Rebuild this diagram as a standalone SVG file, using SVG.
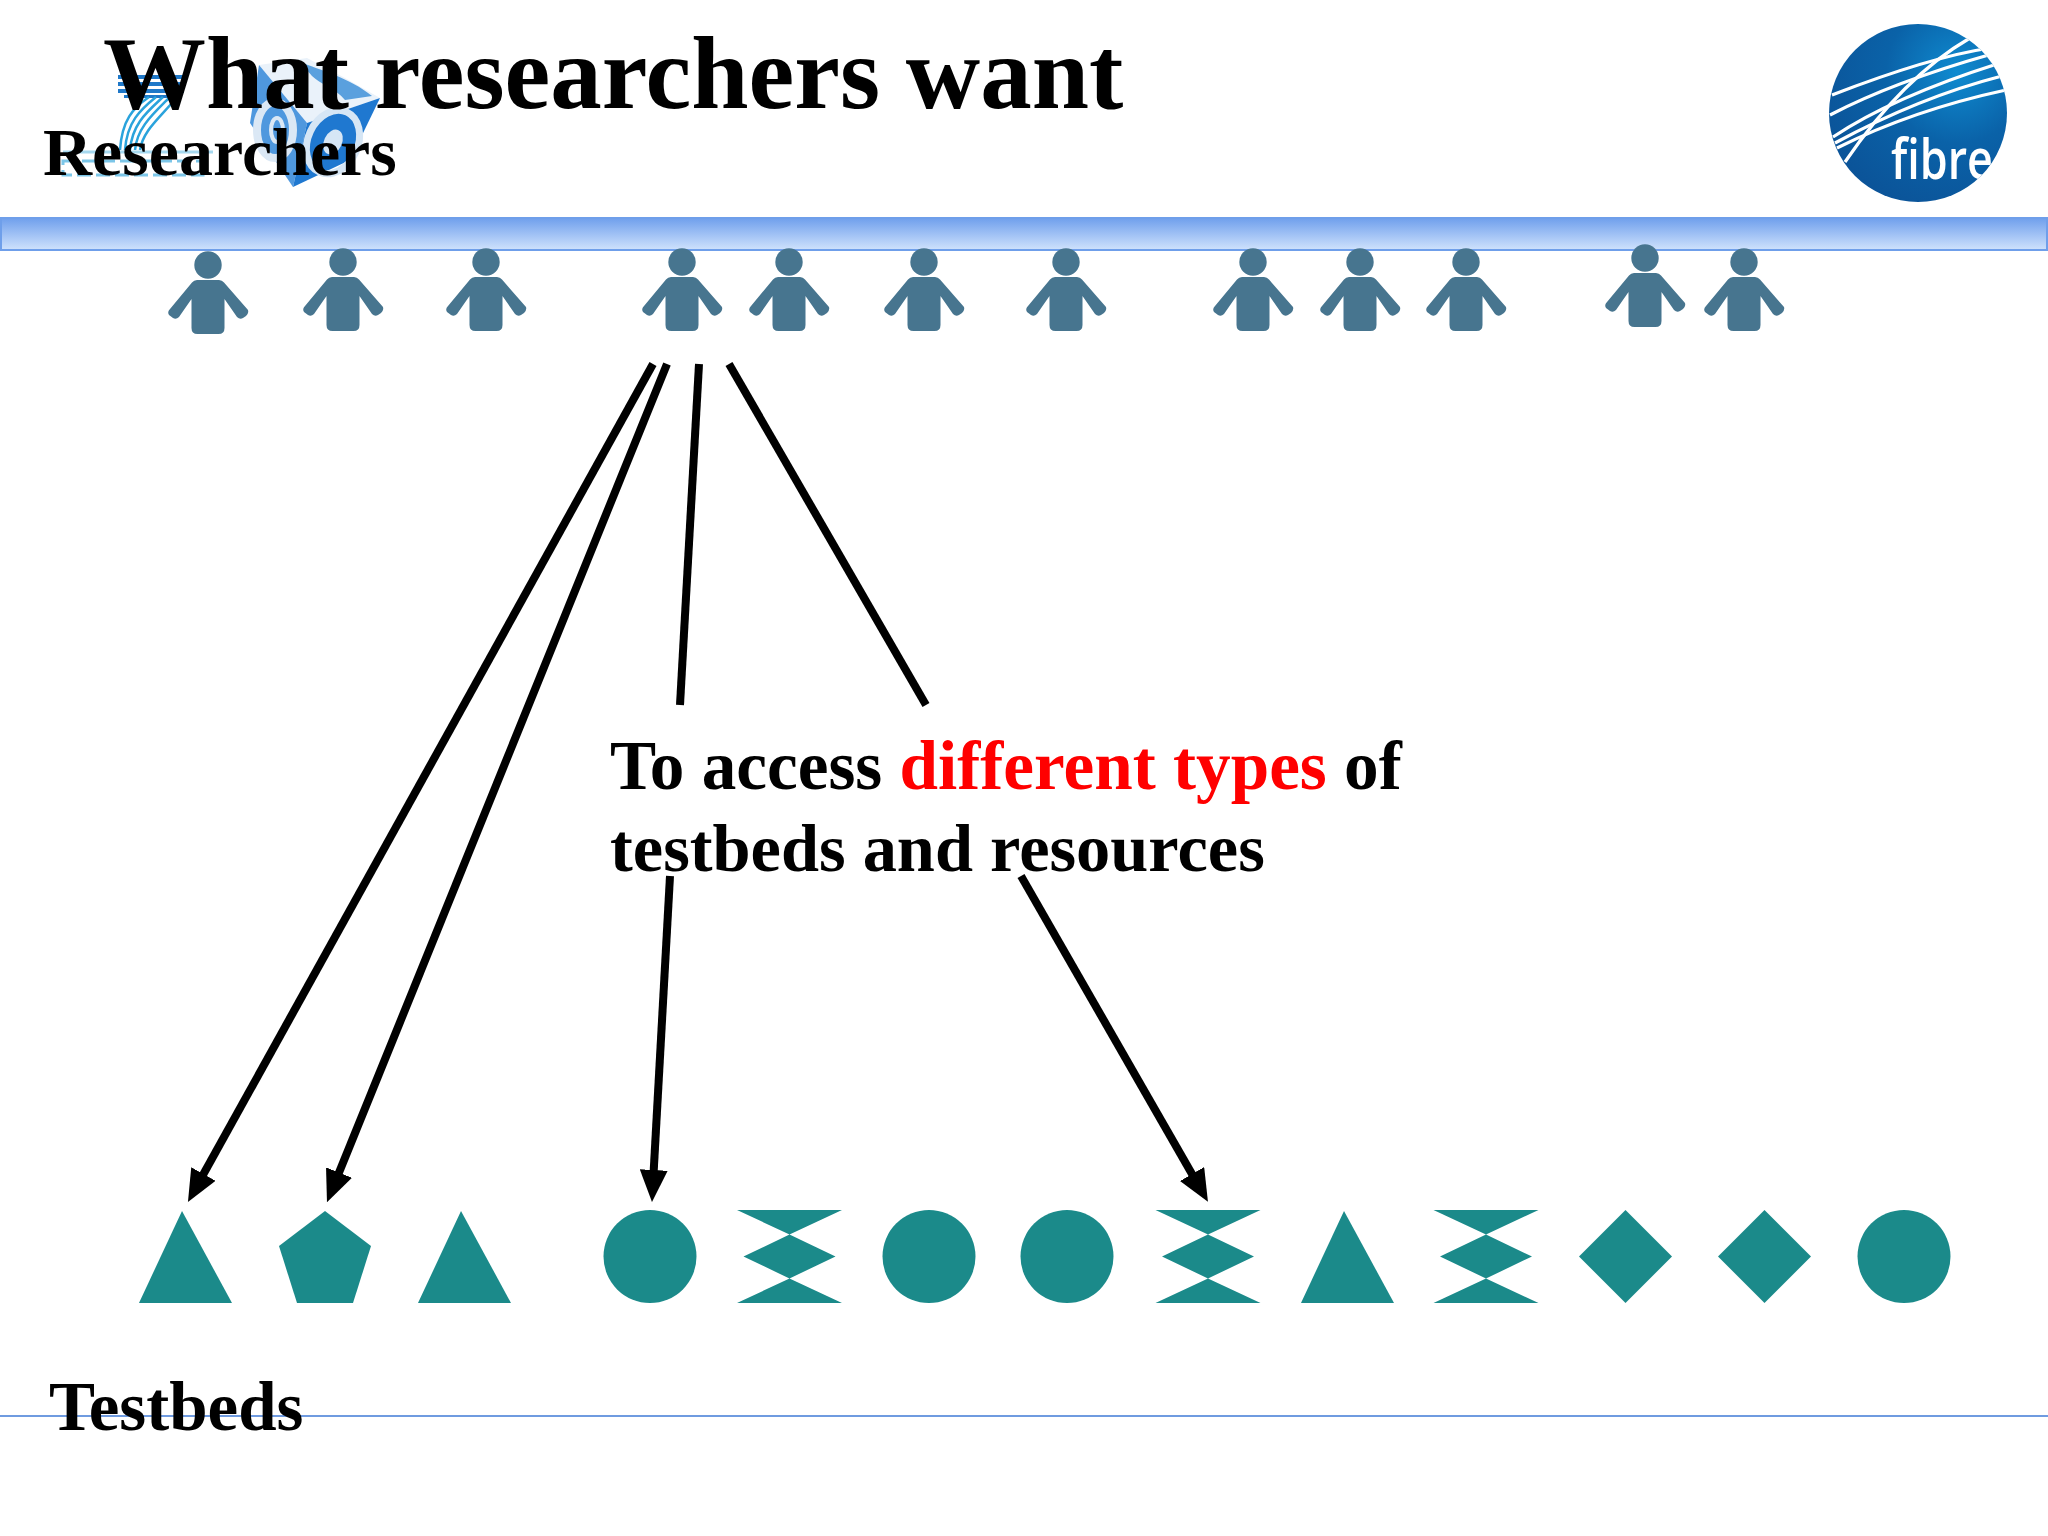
<svg xmlns="http://www.w3.org/2000/svg" width="2048" height="1536" viewBox="0 0 2048 1536">
<style>
text{font-family:"Liberation Serif","Times New Roman",serif;font-weight:bold;fill:#000}
.shape{fill:#1b8a8a}
.person{fill:#47758f}
.conn{stroke:#000;stroke-width:8;fill:none}
.arrow{stroke:#000;stroke-width:8;fill:none;marker-end:url(#ah)}
.st{stroke:#fff;fill:none;stroke-width:3.2}
.s7{stroke:#2aa3dc;fill:none;stroke-width:2.500}
</style>
<defs>
<marker id="ah" markerUnits="userSpaceOnUse" markerWidth="32" markerHeight="28" refX="8" refY="14" orient="auto" viewBox="0 0 32 28"><path d="M0 0L32 14L0 28Z" fill="#000"/></marker>
<linearGradient id="bar" x1="0" y1="0" x2="0" y2="1"><stop offset="0" stop-color="#6f9fec"/><stop offset="1" stop-color="#cfe2fc"/></linearGradient>
<radialGradient id="globe" cx="0.72" cy="0.27" r="0.8"><stop offset="0" stop-color="#0f8bd0"/><stop offset="0.5" stop-color="#0a62a8"/><stop offset="1" stop-color="#0b5499"/></radialGradient>
<clipPath id="gc"><circle cx="1918" cy="113" r="89"/></clipPath>
<g id="person"><circle cx="0" cy="0" r="13.7"/><path d="M-11 15H11Q14 15 16 17.500L40 45Q41 48 38 51L35 53Q32 55 29 52L16.500 34V63Q16.500 69 10.500 69H-10.500Q-16.500 69 -16.500 63V34L-29 52Q-32 55 -35 53L-39 50Q-41 47 -38 44L-16 17.500Q-14 15 -11 15Z"/></g>
<path id="tri" d="M0 1L50 93H-43Z"/>
<path id="pent" d="M0 1L46 36L28 93H-28L-46 36Z"/>
<path id="hour" d="M-52.500 0H52.500L0 24.500L46 46.500L0 68.500L52.500 93H-52.500L0 68.500L-46 46.500L0 24.500Z"/>
<path id="dia" d="M0 0L46.500 46.500L0 93L-46.500 46.500Z"/>
<circle id="circ" cx="0" cy="46.500" r="46.500"/>
</defs>
<rect width="2048" height="1536" fill="#fff"/>
<g id="fp7-logo">
<path d="M118 75H184V79H118ZM118 82H182V86H118ZM118 89H184V93H118ZM124 95H178V98H124Z" fill="#1f78c8"/>
<path class="s7" d="M177 97C160 118 143 130 140 150M170 97C152 115 137 128 135 150M163 97C147 112 132 124 130 150M156 97C140 110 127 122 125 150M149 97C133 108 122 120 120 150"/>
<path d="M63 152H213" stroke="#a5d8ef" stroke-width="3" fill="none"/>
<rect x="63" y="161" width="140" height="14" fill="none" stroke="#7cc6e8" stroke-width="3" stroke-dasharray="14 5"/>
<path d="M259 65L307 58L345 78L380 98L307 123L252 123Z" fill="#eaf2fa"/>
<path d="M300 62C320 70 350 78 372 96L345 100C335 88 320 84 312 76Z" fill="#5aa0de"/>
<path d="M259 65L307 123L293 187L250 123Z" fill="#4f98de"/>
<path d="M307 123L380 98L350 160L293 187Z" fill="#1f78d0"/>
<ellipse cx="333" cy="142" rx="25" ry="33" fill="none" stroke="#d6e6f5" stroke-width="7" transform="rotate(25 333 142)"/>
<ellipse cx="333" cy="142" rx="9" ry="13" fill="#d6e6f5" transform="rotate(25 333 142)"/>
<ellipse cx="275" cy="130" rx="18" ry="28" fill="none" stroke="#dbe8f5" stroke-width="8"/>
<ellipse cx="277" cy="130" rx="6" ry="12" fill="none" stroke="#dbe8f5" stroke-width="4"/>
</g>
<text id="title" x="103" y="108" font-size="103">What researchers want</text>
<text id="researchers-label" x="43" y="175" font-size="68">Researchers</text>
<g id="fibre-logo">
<circle cx="1918" cy="113" r="89" fill="url(#globe)"/>
<g clip-path="url(#gc)">
<path class="st" d="M1832 95Q1930 57 1990 48"/>
<path class="st" d="M1830 115Q1893 82 1992 54"/>
<path class="st" d="M1845 162Q1903 77 1970 38"/>
<path class="st" d="M1833 137Q1893 97 1997 64"/>
<path class="st" d="M1835 143Q1920 97 2002 76"/>
<path class="st" d="M1837 148Q1913 110 2006 90"/>
</g>
<text x="1891" y="179" font-size="56" textLength="102" lengthAdjust="spacingAndGlyphs" style="font-family:'Open Sans','Liberation Sans',sans-serif;font-weight:600;fill:#fff" clip-path="url(#gc)">fibre</text>
</g>
<g id="researcher-bar"><rect x="1" y="218" width="2046" height="32" fill="url(#bar)" stroke="#6f9fea" stroke-width="2"/></g>
<g id="researchers" class="person">
<use id="r1" href="#person" x="208" y="265"/>
<use id="r2" href="#person" x="343" y="262"/>
<use id="r3" href="#person" x="486" y="262"/>
<use id="r4" href="#person" x="682" y="262"/>
<use id="r5" href="#person" x="789" y="262"/>
<use id="r6" href="#person" x="924" y="262"/>
<use id="r7" href="#person" x="1066" y="262"/>
<use id="r8" href="#person" x="1253" y="262"/>
<use id="r9" href="#person" x="1360" y="262"/>
<use id="r10" href="#person" x="1466" y="262"/>
<use id="r11" href="#person" x="1645" y="258"/>
<use id="r12" href="#person" x="1744" y="262"/>
</g>
<g id="connectors">
<path class="arrow" d="M653 364L199.600 1181"/>
<path class="arrow" d="M667 364L336 1180"/>
<path class="conn" d="M699 364L680 705"/>
<path class="arrow" d="M670 876L653.300 1178"/>
<path class="conn" d="M729 364L926 705"/>
<path class="arrow" d="M1021 876L1196 1181"/>
</g>
<g id="testbeds" class="shape">
<use id="t1" href="#tri" x="182" y="1210"/>
<use id="t2" href="#pent" x="325" y="1210"/>
<use id="t3" href="#tri" x="461" y="1210"/>
<use id="t4" href="#circ" x="650" y="1210"/>
<use id="t5" href="#hour" x="789.500" y="1210"/>
<use id="t6" href="#circ" x="929" y="1210"/>
<use id="t7" href="#circ" x="1067" y="1210"/>
<use id="t8" href="#hour" x="1208" y="1210"/>
<use id="t9" href="#tri" x="1344" y="1210"/>
<use id="t10" href="#hour" x="1486" y="1210"/>
<use id="t11" href="#dia" x="1625.500" y="1210"/>
<use id="t12" href="#dia" x="1764.500" y="1210"/>
<use id="t13" href="#circ" x="1904" y="1210"/>
</g>
<text id="caption" font-size="69"><tspan x="610" y="789" font-size="69.200">To access <tspan style="fill:#f00">different types</tspan> of</tspan><tspan x="610" y="871" font-size="68.400">testbeds and resources</tspan></text>
<line id="bottom-rule" x1="0" y1="1416" x2="2048" y2="1416" stroke="#6f9be0" stroke-width="2"/>
<text id="testbeds-label" x="49" y="1430" font-size="69">Testbeds</text>
</svg>
